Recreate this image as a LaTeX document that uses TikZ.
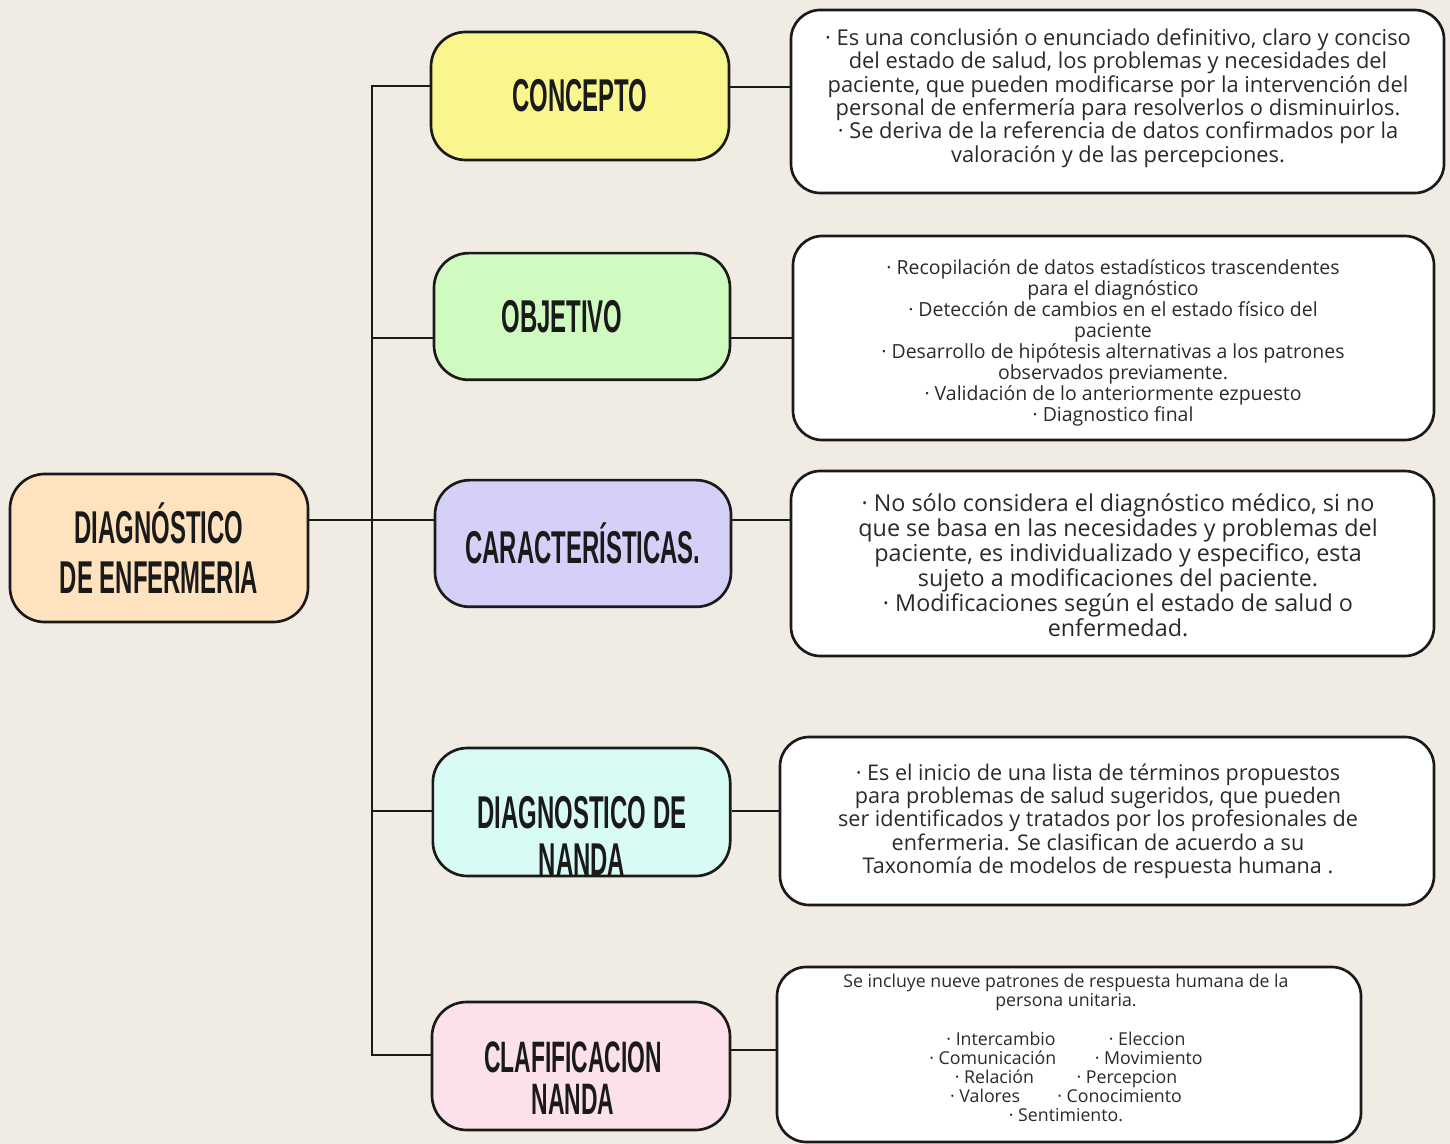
\documentclass[tikz,border=0pt]{standalone}
\usepackage{fontspec}
\setmainfont{Open Sans}
\newfontfamily\tfont{Liberation Sans}[FakeStretch=0.52]
\definecolor{bg}{HTML}{F0EBE3}
\definecolor{cmain}{HTML}{FFE3BF}
\definecolor{cyel}{HTML}{FAF68E}
\definecolor{cgreen}{HTML}{CFFAC0}
\definecolor{clav}{HTML}{D4D0F7}
\definecolor{ccyan}{HTML}{D9FBF5}
\definecolor{cpink}{HTML}{FCE1EA}
\definecolor{ink}{HTML}{1A1A1A}
\definecolor{body}{HTML}{2A2A2A}
\tikzset{
  titlebox/.style={draw=ink, line width=2pt, rounded corners=26pt, inner sep=0pt,
    align=center, text=ink, font=\tfont\bfseries\fontsize{34.5}{35}\selectfont},
  whitebox/.style={draw=ink, line width=2pt, rounded corners=22pt, fill=white, inner sep=0pt},
  bodytext/.style={align=center, text=body, inner sep=0pt},
  titletext/.style={align=center, text=ink, inner sep=0pt, font=\tfont\bfseries\fontsize{34.5}{35}\selectfont},
  conn/.style={draw=ink, line width=2.2pt}
}
\begin{document}
\begin{tikzpicture}[x=0.75pt,y=-0.75pt]
\fill[bg] (0,0) rectangle (1450,1144);
\useasboundingbox (0,0) rectangle (1450,1144);

% title boxes
\node[titlebox, fill=cmain, minimum width=223.5pt, minimum height=111pt,
      font=\tfont\bfseries\fontsize{34.5}{37.5}\selectfont] (main) at (159,548) {DIAGNÓSTICO\\DE ENFERMERIA};
\node[titlebox, fill=cyel, minimum width=223.5pt, minimum height=96pt] (concepto) at (580,96) {CONCEPTO};
\node[titlebox, fill=cgreen, minimum width=222pt, minimum height=95pt] (objetivo) at (582,316.5) {OBJETIVO\hspace*{30pt}};
\node[titlebox, fill=clav, minimum width=222pt, minimum height=95pt] (carac) at (583,543.5) {CARACTERÍSTICAS.};
\node[titlebox, fill=ccyan, minimum width=223pt, minimum height=96pt] (diag) at (581.5,812) {};
\node[titletext] (diagt) at (582,836) {DIAGNOSTICO DE\\NANDA};
\node[titlebox, fill=cpink, minimum width=223.5pt, minimum height=96pt] (claf) at (581,1066) {};
\node[titletext, font=\tfont\bfseries\fontsize{33}{32}\selectfont] (claft) at (573,1078) {CLAFIFICACION\\NANDA};

% white boxes
\node[whitebox, minimum width=489.75pt, minimum height=137.25pt] (w1) at (1117.5,101.5) {};
\node[whitebox, minimum width=480.75pt, minimum height=153pt] (w2) at (1113.5,338) {};
\node[whitebox, minimum width=482.25pt, minimum height=138.75pt] (w3) at (1112.5,563.5) {};
\node[whitebox, minimum width=490.5pt, minimum height=126pt] (w4) at (1107,821) {};
\node[whitebox, minimum width=438pt, minimum height=131.25pt] (w5) at (1069,1054.5) {};

\node[bodytext, font=\fontsize{16.4}{17.6}\selectfont] (t1) at (1118,98) {%
· Es una conclusión o enunciado definitivo, claro y conciso\\
del estado de salud, los problemas y necesidades del\\
paciente, que pueden modificarse por la intervención del\\
personal de enfermería para resolverlos o disminuirlos.\\
· Se deriva de la referencia de datos confirmados por la\\
valoración y de las percepciones.};

\node[bodytext, font=\fontsize{14.6}{15.75}\selectfont] (t2) at (1113,343) {%
· Recopilación de datos estadísticos trascendentes\\
para el diagnóstico\\
· Detección de cambios en el estado físico del\\
paciente\\
· Desarrollo de hipótesis alternativas a los patrones\\
observados previamente.\\
· Validación de lo anteriormente ezpuesto\\
· Diagnostico final};

\node[bodytext, font=\fontsize{17.5}{18.75}\selectfont] (t3) at (1118,565) {%
· No sólo considera el diagnóstico médico, si no\\
que se basa en las necesidades y problemas del\\
paciente, es individualizado y especifico, esta\\
sujeto a modificaciones del paciente.\\
· Modificaciones según el estado de salud o\\
enfermedad.};

\node[bodytext, font=\fontsize{16.2}{17.5}\selectfont] (t4) at (1098,821) {%
· Es el inicio de una lista de términos propuestos\\
para problemas de salud sugeridos, que pueden\\
ser identificados y tratados por los profesionales de\\
enfermeria. Se clasifican de acuerdo a su\\
Taxonomía de modelos de respuesta humana .};

\node[bodytext, font=\fontsize{13.3}{14.4}\selectfont] (t5) at (1066,1048) {%
Se incluye nueve patrones de respuesta humana de la\\
persona unitaria.\\[14.4pt]
· Intercambio\hspace{40pt}· Eleccion\\
· Comunicación\hspace{29pt}· Movimiento\\
· Relación\hspace{32pt}· Percepcion\\
· Valores\hspace{28pt}· Conocimiento\\
· Sentimiento.};

% connectors
\coordinate (tt) at (372,86);
\coordinate (tb) at (372,1055);
\coordinate (bo) at (372,338);
\coordinate (bm) at (372,520);
\coordinate (bd) at (372,811);
\coordinate (r1) at (760,87);
\coordinate (r2) at (760,338);
\coordinate (r3) at (760,520);
\coordinate (r4) at (760,811);
\coordinate (r5) at (760,1050);

\draw[conn] (concepto.west |- tt) -- (tt) -- (tb) -- (claf.west |- tb);
\draw[conn] (bo) -- (objetivo.west |- bo);
\draw[conn] (main.east |- bm) -- (carac.west |- bm);
\draw[conn] (bd) -- (diag.west |- bd);

\draw[conn] (concepto.east |- r1) -- (w1.west |- r1);
\draw[conn] (objetivo.east |- r2) -- (w2.west |- r2);
\draw[conn] (carac.east |- r3) -- (w3.west |- r3);
\draw[conn] (diag.east |- r4) -- (w4.west |- r4);
\draw[conn] (claf.east |- r5) -- (w5.west |- r5);
\end{tikzpicture}
\end{document}
